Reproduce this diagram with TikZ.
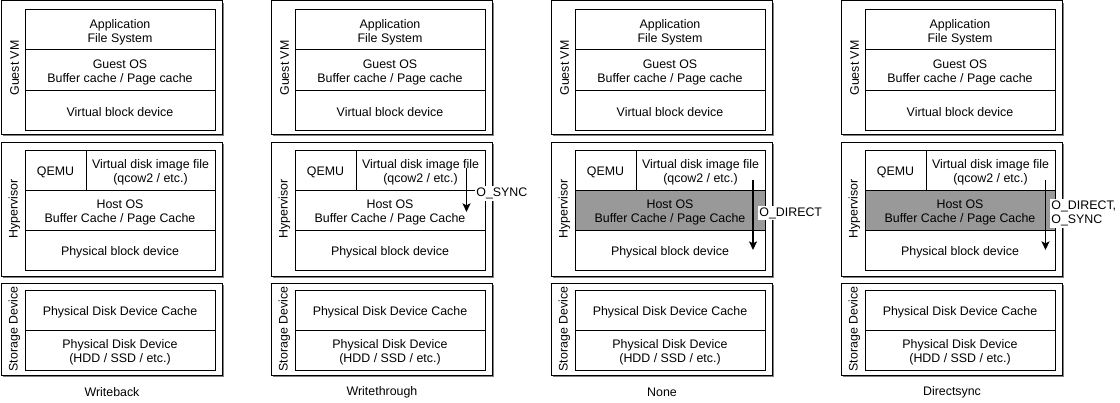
\documentclass[tikz,border=0pt]{standalone}
\usepackage{fontspec}
\setmainfont{Liberation Sans}
\usetikzlibrary{arrows.meta,calc}
\definecolor{cachegray}{RGB}{153,153,153}
\definecolor{shadowgray}{RGB}{128,128,128}
\begin{document}
\begin{tikzpicture}[x=0.75pt,y=-0.75pt,
  every node/.style={font=\fontsize{9.3pt}{10.5pt}\selectfont},
  cell/.style={draw=black, line width=0.75pt, inner sep=0pt, align=center, minimum height={40*0.75pt},
    execute at begin node={\rule{0pt}{9.6pt}}},
  twoline/.style={execute at begin node={\rule{0pt}{20.1pt}}},
  wide/.style={cell, minimum width={190*0.75pt}},
  outerbox/.style={draw=black, line width=0.75pt, fill=white},
  sidelabel/.style={rotate=90, inner sep=0pt},
  titlelabel/.style={inner sep=0pt},
  flow/.style={line width=1.1pt, -{Stealth[length=6.5pt,width=6pt,inset=1.5pt]}},
  flowlabel/.style={fill=white, inner sep=1.2pt, anchor=west, align=left}
]
\useasboundingbox (0,0) rectangle (1120,403);

\foreach \c/\ox/\title/\hc in {1/0/Writeback/white, 2/270/Writethrough/white, 3/550/None/cachegray, 4/840/Directsync/cachegray}{
  % outer group boxes with shadow
  \fill[shadowgray] (\ox+3,3) rectangle (\ox+224,136);
  \draw[outerbox] (\ox+1,1) rectangle (\ox+222,134);
  \fill[shadowgray] (\ox+3,144) rectangle (\ox+224,278);
  \draw[outerbox] (\ox+1,142) rectangle (\ox+222,276);
  \fill[shadowgray] (\ox+3,285) rectangle (\ox+224,377);
  \draw[outerbox] (\ox+1,283) rectangle (\ox+222,375);
  % side labels
  \node[sidelabel] (gvm\c) at (\ox+14.5,68) {Guest VM};
  \node[sidelabel] (hyp\c) at (\ox+14.5,209) {Hypervisor};
  \node[sidelabel] (std\c) at (\ox+14.5,329) {Storage Device};
  % guest VM cells
  \node[wide, twoline] (app\c) at (\ox+120,30) {Application\\File System};
  \node[wide, twoline] (gos\c) at (\ox+120,70) {Guest OS\\Buffer cache / Page cache};
  \node[wide] (vbd\c) at (\ox+120,110) {Virtual block device};
  % hypervisor cells
  \node[cell, minimum width={61*0.75pt}] (qemu\c) at (\ox+55.5,170) {QEMU};
  \node[cell, twoline, minimum width={129*0.75pt}] (vdi\c) at (\ox+150.5,170) {Virtual disk image file\\(qcow2 / etc.)};
  \node[wide, twoline, fill=\hc] (hos\c) at (\ox+120,210) {Host OS\\Buffer Cache / Page Cache};
  \node[wide] (pbd\c) at (\ox+120,250) {Physical block device};
  % storage cells
  \node[wide] (pdc\c) at (\ox+120,310) {Physical Disk Device Cache};
  \node[wide, twoline] (pdd\c) at (\ox+120,350) {Physical Disk Device\\(HDD / SSD / etc.)};
  % title
  \node[titlelabel] (title\c) at (\ox+112,392) {\title};
}

% arrows
\coordinate (s2) at (466.5,168);
\coordinate (e2) at (466.5,212);
\draw[flow] (s2) -- (e2);
\node[flowlabel] (l2) at (474.5,193.5) {O\_SYNC};

\coordinate (s3) at (753,180);
\coordinate (e3) at (753,250);
\draw[flow] (s3) -- (e3);
\node[flowlabel] (l3) at (757.5,213) {O\_DIRECT};

\coordinate (s4) at (1045.5,180);
\coordinate (e4) at (1045.5,250);
\draw[flow] (s4) -- (e4);
\node[flowlabel] (l4) at (1049.5,213.5) {O\_DIRECT,\\O\_SYNC};
\end{tikzpicture}
\end{document}
